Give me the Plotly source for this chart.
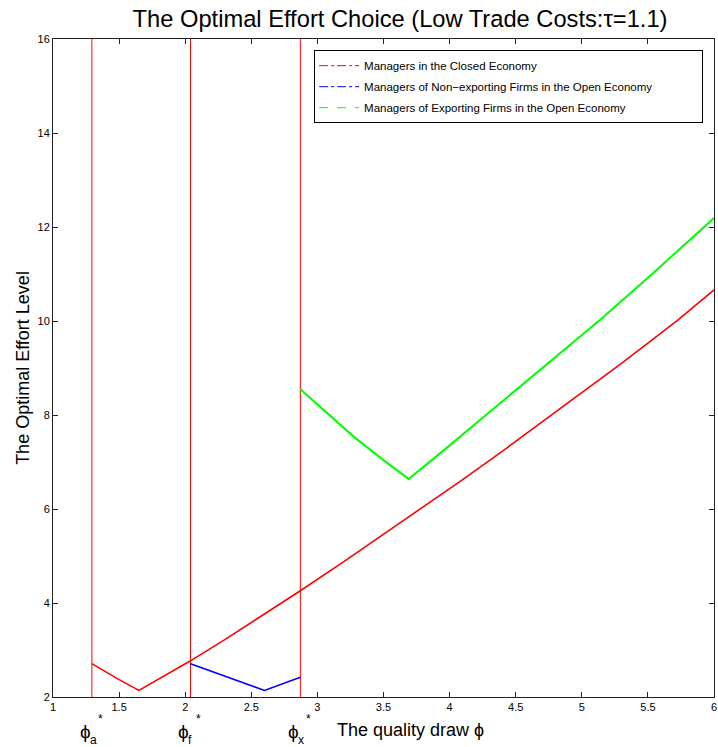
import plotly.graph_objects as go

# ---- data ----
closed_x = [1.294, 1.40, 1.50, 1.65, 1.80, 2.04, 2.30, 2.60, 2.871, 3.20, 3.50, 3.80,
            4.096, 4.40, 4.74, 5.00, 5.30, 5.50, 5.726, 6.00]
closed_y = [2.71, 2.53, 2.37, 2.14, 2.38, 2.77, 3.22, 3.76, 4.26, 4.88, 5.46, 6.04,
            6.62, 7.23, 7.93, 8.47, 9.10, 9.53, 10.02, 10.66]

nonexp_x = [2.04, 2.32, 2.60, 2.871]
nonexp_y = [2.71, 2.43, 2.14, 2.42]

exp_x = [2.871, 3.00, 3.274, 3.50, 3.69, 3.90, 4.235, 4.60, 5.00, 5.137, 5.50, 5.80, 6.00]
exp_y = [8.55, 8.23, 7.54, 7.04, 6.64, 7.12, 7.91, 8.76, 9.70, 10.02, 10.92, 11.67, 12.19]

cutoffs = [1.294, 2.04, 2.871]
cutoff_subs = ["a", "f", "x"]

legend_names = ["Managers in the Closed Economy",
                "Managers of Non\u2212exporting Firms in the Open Economy",
                "Managers of Exporting Firms in the Open Economy"]

x_ticks = [1, 1.5, 2, 2.5, 3, 3.5, 4, 4.5, 5, 5.5, 6]
y_ticks = [2, 4, 6, 8, 10, 12, 14, 16]

RED = "#ff0000"
BLUE = "#0000ff"
GREEN = "#00ff00"
FONT = "Arial, Liberation Sans, sans-serif"

fig = go.Figure()

# legend-only entries (MATLAB line styles)
legend_styles = [(RED, "dashdot"), (BLUE, "dashdot"), (GREEN, "dash")]
for i, (name, (col, dash)) in enumerate(zip(legend_names, legend_styles)):
    fig.add_trace(go.Scatter(x=[None], y=[None], mode="lines", name=name,
                             legendgroup=f"g{i}",
                             line=dict(color=col, width=1, dash=dash)))

# vertical cutoff lines
for c in cutoffs:
    fig.add_trace(go.Scatter(x=[c, c], y=[2, 16], mode="lines", showlegend=False,
                             line=dict(color=RED, width=1), hoverinfo="skip"))

# curves
fig.add_trace(go.Scatter(x=closed_x, y=closed_y, mode="lines", showlegend=False,
                         line=dict(color=RED, width=1.6)))
fig.add_trace(go.Scatter(x=nonexp_x, y=nonexp_y, mode="lines", showlegend=False,
                         line=dict(color=BLUE, width=1.6)))
fig.add_trace(go.Scatter(x=exp_x, y=exp_y, mode="lines", showlegend=False,
                         line=dict(color=GREEN, width=2)))

ann = []
for c, s in zip(cutoffs, cutoff_subs):
    ann.append(dict(x=c, y=-0.052, xref="x", yref="paper", text="\u03d5",
                    showarrow=False, xanchor="right", yanchor="middle",
                    xshift=1, font=dict(family=FONT, size=19, color="black")))
    ann.append(dict(x=c, y=-0.034, xref="x", yref="paper", text="*",
                    showarrow=False, xanchor="left", yanchor="middle",
                    xshift=4, font=dict(family=FONT, size=12, color="black")))
    ann.append(dict(x=c, y=-0.066, xref="x", yref="paper", text=s,
                    showarrow=False, xanchor="left", yanchor="middle",
                    xshift=-4, font=dict(family=FONT, size=12, color="black")))
ann.append(dict(x=3.13, y=-0.05, xref="x", yref="paper", text="The quality draw \u03d5",
                showarrow=False, xanchor="left", yanchor="middle",
                font=dict(family=FONT, size=18, color="black")))

fig.update_layout(
    width=718, height=747,
    margin=dict(l=53, r=4, t=39, b=50, autoexpand=False),
    paper_bgcolor="white", plot_bgcolor="white",
    font=dict(family=FONT, color="black"),
    title=dict(text="The Optimal Effort Choice (Low Trade Costs:\u03c4=1.1)",
               x=0.525, xref="paper", xanchor="center",
               y=1 - 19 / 747, yref="container", yanchor="middle", automargin=False,
               font=dict(family=FONT, size=23.7, color="black")),
    showlegend=True,
    legend=dict(x=0.395, y=0.983, xanchor="left", yanchor="top",
                orientation="h", entrywidthmode="pixels", entrywidth=333,
                bgcolor="white", bordercolor="black", borderwidth=1,
                tracegroupgap=2,
                font=dict(family=FONT, size=11.5, color="black"),
                itemwidth=40),
    annotations=ann,
    xaxis=dict(range=[1, 6], tickvals=x_ticks, ticktext=[f"{v:g}" for v in x_ticks],
               ticks="inside", ticklen=5, tickcolor="#222", showline=True,
               linecolor="#222", linewidth=1, mirror="allticks", showgrid=False,
               zeroline=False, automargin=False, ticklabeloverflow="allow",
               tickfont=dict(family=FONT, size=11, color="black")),
    yaxis=dict(range=[2, 16], tickvals=y_ticks, ticks="inside", ticklen=5,
               tickcolor="#222", showline=True, linecolor="#222", linewidth=1,
               mirror="allticks", showgrid=False, zeroline=False, automargin=False,
               title=dict(text="The Optimal Effort Level", standoff=3,
                          font=dict(family=FONT, size=18, color="black")),
               tickfont=dict(family=FONT, size=11, color="black")),
)

# remove the browser's default page margin so the 718x747 figure fills the window
fig.write_html("out.html",
               config={"displayModeBar": False},
               post_script="document.body.style.margin='0';document.body.style.overflow='hidden';")
